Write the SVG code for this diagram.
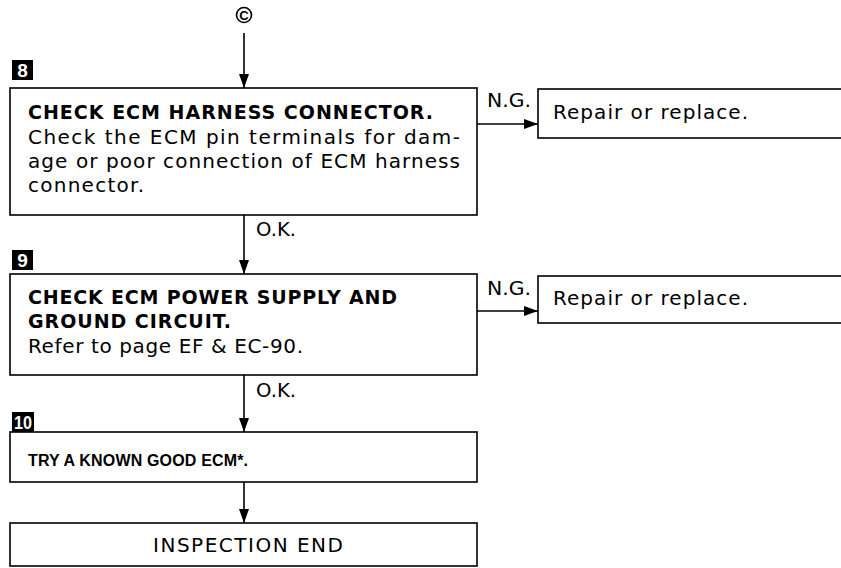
<svg xmlns="http://www.w3.org/2000/svg" width="841" height="568" viewBox="0 0 841 568">
<style>
.box{fill:#fff;stroke:#000;stroke-width:1.6}
.ln{stroke:#000;stroke-width:1.6;fill:none}
.t{font-family:"DejaVu Sans","Liberation Sans",Arial,sans-serif;font-size:20px;fill:#000}
.b{font-weight:bold;font-size:19px}
.s{font-family:"Liberation Sans",Arial,sans-serif;font-size:16px;font-weight:bold}
.badge{fill:#000}
.bt{font-family:"Liberation Sans",Arial,sans-serif;font-size:19px;font-weight:bold;fill:#fff}
</style>
<defs>
<marker id="ah" viewBox="0 0 14 10" refX="14" refY="5" markerWidth="14" markerHeight="10" markerUnits="userSpaceOnUse" orient="auto">
<path d="M0,0 L14,5 L0,10 Z" fill="#000"/>
</marker>
</defs>
<g id="connectors">
<circle cx="244" cy="15" r="7.5" class="ln" stroke-width="1.4"/>
<text x="244" y="19.5" text-anchor="middle" style="font-family:'Liberation Sans',Arial,sans-serif;font-size:13px;font-weight:bold">C</text>
<line x1="244" y1="33" x2="244" y2="88" class="ln" marker-end="url(#ah)"/>
<line x1="244" y1="215" x2="244" y2="274" class="ln" marker-end="url(#ah)"/>
<text x="256" y="236" class="t" textLength="40" lengthAdjust="spacingAndGlyphs">O.K.</text>
<line x1="477" y1="124" x2="538" y2="124" class="ln" marker-end="url(#ah)"/>
<text x="487" y="107" class="t" textLength="44" lengthAdjust="spacingAndGlyphs">N.G.</text>
<line x1="244" y1="375" x2="244" y2="432" class="ln" marker-end="url(#ah)"/>
<text x="256" y="397" class="t" textLength="40" lengthAdjust="spacingAndGlyphs">O.K.</text>
<line x1="477" y1="311" x2="538" y2="311" class="ln" marker-end="url(#ah)"/>
<text x="487" y="295" class="t" textLength="44" lengthAdjust="spacingAndGlyphs">N.G.</text>
<line x1="244" y1="482" x2="244" y2="523" class="ln" marker-end="url(#ah)"/>
</g>
<g id="step8">
<rect x="12" y="60" width="21" height="20" class="badge"/>
<text x="22.5" y="77" text-anchor="middle" class="bt">8</text>
<rect x="10" y="88" width="467" height="127" class="box"/>
<text x="28" y="119" class="t b" textLength="405" lengthAdjust="spacing">CHECK ECM HARNESS CONNECTOR.</text>
<text x="28" y="144" class="t" textLength="432" lengthAdjust="spacing">Check the ECM pin terminals for dam-</text>
<text x="28" y="168" class="t" textLength="432" lengthAdjust="spacing">age or poor connection of ECM harness</text>
<text x="28" y="192" class="t" textLength="116" lengthAdjust="spacing">connector.</text>
</g>
<g id="repair1">
<rect x="538" y="89" width="310" height="49" class="box"/>
<text x="553" y="119" class="t" textLength="195" lengthAdjust="spacing">Repair or replace.</text>
</g>
<g id="step9">
<rect x="12" y="250" width="21" height="20" class="badge"/>
<text x="22.5" y="267" text-anchor="middle" class="bt">9</text>
<rect x="10" y="274" width="467" height="101" class="box"/>
<text x="28" y="304" class="t b" textLength="369" lengthAdjust="spacing">CHECK ECM POWER SUPPLY AND</text>
<text x="28" y="328" class="t b" textLength="203" lengthAdjust="spacing">GROUND CIRCUIT.</text>
<text x="28" y="353" class="t" textLength="275" lengthAdjust="spacing">Refer to page EF &amp; EC-90.</text>
</g>
<g id="repair2">
<rect x="538" y="276" width="310" height="47" class="box"/>
<text x="553" y="305" class="t" textLength="195" lengthAdjust="spacing">Repair or replace.</text>
</g>
<g id="step10">
<rect x="12" y="412" width="22" height="20" class="badge"/>
<text x="23" y="429" text-anchor="middle" class="bt" style="font-size:18px" textLength="18" lengthAdjust="spacingAndGlyphs">10</text>
<rect x="10" y="432" width="467" height="50" class="box"/>
<text x="28" y="466" class="s" textLength="220" lengthAdjust="spacing">TRY A KNOWN GOOD ECM*.</text>
</g>
<g id="end">
<rect x="10" y="523" width="467" height="43" class="box"/>
<text x="248" y="552" text-anchor="middle" class="t" textLength="190" lengthAdjust="spacing">INSPECTION END</text>
</g>
</svg>
